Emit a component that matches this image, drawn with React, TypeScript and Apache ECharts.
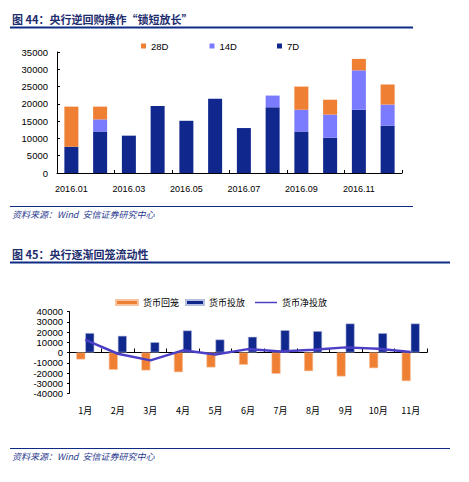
import React, { useEffect, useRef } from "react";
import * as echarts from "echarts";

// ---- Chart 44 data ----
const months44 = [
  "2016.01", "2016.02", "2016.03", "2016.04", "2016.05", "2016.06",
  "2016.07", "2016.08", "2016.09", "2016.10", "2016.11", "2016.12",
];
const d7 = [7600, 12000, 10800, 19400, 15100, 21500, 13000, 19000, 12000, 10200, 18300, 13700];
const d14 = [0, 3500, 0, 0, 0, 0, 0, 3400, 6300, 6700, 11400, 6100];
const d28 = [11600, 3700, 0, 0, 0, 0, 0, 0, 6700, 4300, 3300, 5800];

// ---- Chart 45 data ----
const months45 = ["1月", "2月", "3月", "4月", "5月", "6月", "7月", "8月", "9月", "10月", "11月"];
const withdraw = [-6800, -16900, -17500, -19200, -14600, -12000, -20800, -18200, -23400, -15300, -27900];
const inject = [19000, 16300, 10100, 21500, 12700, 15300, 21800, 20900, 28300, 18900, 28300];
const netInject = [12300, -1200, -7700, 2100, -1900, 3300, 1000, 2700, 5000, 3600, 400];

const ORANGE = "#EE7F33";
const LILAC = "#7B7BFF";
const NAVY = "#10278E";
const LINE = "#4B3FC6";
const TITLE = "#1D2D6E";
const RULE = "#0E2C84";
const SRC = "#2B3A8E";

const NUM_FONT = "Liberation Sans";
const CJK_FONT = "Noto Sans CJK SC";

const plain = (v: number) => String(v);

export default function App() {
  const ref = useRef<HTMLDivElement>(null);

  useEffect(() => {
    document.body.style.margin = "0";
    if (!ref.current) return;
    const chart = echarts.init(ref.current, undefined, { renderer: "svg" });

    const legendText = { fontSize: 9.5, color: "#000", fontFamily: NUM_FONT };
    const legendCjk = { fontSize: 9, color: "#000", fontFamily: CJK_FONT };

    const option: any = {
      animation: false,
      backgroundColor: "#fff",
      graphic: [
        { type: "text", style: { text: "图 44：央行逆回购操作“锁短放长”", x: 12, y: 19, fill: TITLE, font: `bold 11px "${CJK_FONT}"`, verticalAlign: "middle" } },
        { type: "line", shape: { x1: 10, y1: 27.5, x2: 413, y2: 27.5 }, style: { stroke: RULE, lineWidth: 2 } },
        { type: "line", shape: { x1: 10, y1: 206.5, x2: 413, y2: 206.5 }, style: { stroke: RULE, lineWidth: 1 } },
        { type: "text", style: { text: "资料来源：Wind  安信证券研究中心", x: 12, y: 214, fill: SRC, font: `italic 9px "${CJK_FONT}"`, verticalAlign: "middle" } },
        { type: "text", style: { text: "图 45：央行逐渐回笼流动性", x: 12, y: 254, fill: TITLE, font: `bold 11px "${CJK_FONT}"`, verticalAlign: "middle" } },
        { type: "line", shape: { x1: 10, y1: 262.5, x2: 450, y2: 262.5 }, style: { stroke: RULE, lineWidth: 2 } },
        { type: "line", shape: { x1: 10, y1: 448.5, x2: 450, y2: 448.5 }, style: { stroke: RULE, lineWidth: 1 } },
        { type: "text", style: { text: "资料来源：Wind  安信证券研究中心", x: 12, y: 456, fill: SRC, font: `italic 9px "${CJK_FONT}"`, verticalAlign: "middle" } },
      ],
      legend: [
        { data: ["28D"], left: 141, top: 41, icon: "rect", itemWidth: 5, itemHeight: 5, itemGap: 0, textStyle: legendText, padding: 0 },
        { data: ["14D"], left: 209.5, top: 41, icon: "rect", itemWidth: 5, itemHeight: 5, itemGap: 0, textStyle: legendText, padding: 0 },
        { data: ["7D"], left: 277, top: 41, icon: "rect", itemWidth: 5, itemHeight: 5, itemGap: 0, textStyle: legendText, padding: 0 },
        { data: ["货币回笼"], left: 115, top: 298, icon: "rect", itemWidth: 22, itemHeight: 5, itemGap: 0, textStyle: legendCjk, padding: 0 },
        { data: ["货币投放"], left: 185, top: 298, icon: "rect", itemWidth: 18, itemHeight: 5, itemGap: 0, textStyle: legendCjk, padding: 0 },
        { data: ["货币净投放"], left: 255, top: 298, icon: "rect", itemWidth: 22, itemHeight: 1.5, itemGap: 0, textStyle: legendCjk, padding: 0 },
      ],
      grid: [
        { left: 57, right: 67, top: 52, height: 121, containLabel: false },
        { left: 69, right: 42, top: 311.5, height: 82, containLabel: false },
      ],
      xAxis: [
        {
          type: "category",
          gridIndex: 0,
          data: months44,
          axisLine: { lineStyle: { color: "#000", width: 1 } },
          axisTick: { show: true, inside: true, length: 3, interval: 1, lineStyle: { color: "#000" } },
          axisLabel: { interval: 1, margin: 11, fontSize: 9, color: "#000", fontFamily: NUM_FONT },
        },
        {
          type: "category",
          gridIndex: 1,
          data: months45,
          axisLine: { onZero: true, lineStyle: { color: "#000", width: 1 } },
          axisTick: { show: true, inside: true, length: 4, interval: 0, lineStyle: { color: "#000" } },
          axisLabel: { interval: 0, margin: 12, fontSize: 9, color: "#000", fontFamily: CJK_FONT },
        },
      ],
      yAxis: [
        {
          type: "value",
          gridIndex: 0,
          min: 0,
          max: 35000,
          interval: 5000,
          axisLine: { show: true, lineStyle: { color: "#000", width: 1 } },
          axisTick: { show: true, inside: true, length: 3, lineStyle: { color: "#000" } },
          splitLine: { show: false },
          axisLabel: { margin: 9, fontSize: 9.5, color: "#000", fontFamily: NUM_FONT, formatter: plain },
        },
        {
          type: "value",
          gridIndex: 1,
          min: -40000,
          max: 40000,
          interval: 10000,
          axisLine: { show: true, lineStyle: { color: "#000", width: 1 } },
          axisTick: { show: true, inside: false, length: 2, lineStyle: { color: "#000" } },
          splitLine: { show: false },
          axisLabel: { margin: 6, fontSize: 9.5, color: "#000", fontFamily: NUM_FONT, formatter: plain },
        },
      ],
      series: [
        { name: "7D", type: "bar", stack: "top", xAxisIndex: 0, yAxisIndex: 0, data: d7, barWidth: 14, itemStyle: { color: NAVY } },
        { name: "14D", type: "bar", stack: "top", xAxisIndex: 0, yAxisIndex: 0, data: d14, barWidth: 14, itemStyle: { color: LILAC } },
        { name: "28D", type: "bar", stack: "top", xAxisIndex: 0, yAxisIndex: 0, data: d28, barWidth: 14, itemStyle: { color: ORANGE } },
        { name: "货币回笼", type: "bar", xAxisIndex: 1, yAxisIndex: 1, data: withdraw, barWidth: 9, barGap: "0%", itemStyle: { color: ORANGE, borderColor: "#F7C3A0", borderWidth: 0.6 } },
        { name: "货币投放", type: "bar", xAxisIndex: 1, yAxisIndex: 1, data: inject, barWidth: 9, barGap: "0%", itemStyle: { color: NAVY, borderColor: "#B8BEDD", borderWidth: 0.6 } },
        { name: "货币净投放", type: "line", xAxisIndex: 1, yAxisIndex: 1, data: netInject, symbol: "none", z: 5, lineStyle: { color: LINE, width: 2.5 }, itemStyle: { color: LINE } },
      ],
    };

    chart.setOption(option);
    return () => chart.dispose();
  }, []);

  return (
    <div
      ref={ref}
      style={{ position: "absolute", left: 0, top: 0, width: 469, height: 482 }}
    />
  );
}
